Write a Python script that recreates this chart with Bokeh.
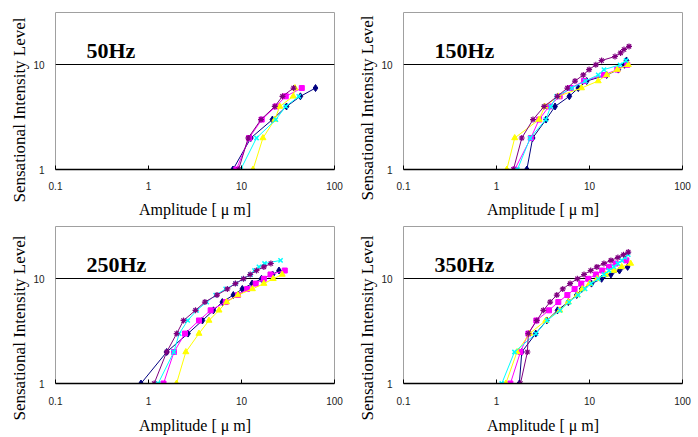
from bokeh.plotting import figure
from bokeh.layouts import gridplot
from bokeh.models import FixedTicker, CustomJSTickFormatter, Label, Title, Range1d
from bokeh.embed import file_html
from bokeh.resources import INLINE

# ---------------- data ----------------
panel_names = ["50Hz", "150Hz", "250Hz", "350Hz"]
x_ticks = [0.1, 1, 10, 100]
y_ticks = [1, 10]
grid_ticks = [10]
x_label = "Amplitude [ \u03bc m]"
y_label = "Sensational Intensity Level"

# 50 Hz
hz50_navy_x = [8.1, 12.6, 21.5, 30.5, 43.0, 62.5]
hz50_navy_y = [1, 2, 3, 4, 5, 6]
hz50_magenta_x = [8.8, 12.1, 16.5, 23.4, 29.9, 44.5]
hz50_magenta_y = [1, 2, 3, 4, 5, 6]
hz50_yellow_x = [13.3, 17.0, 22.8, 25.8, 36.0, 37.6]
hz50_yellow_y = [1, 2, 3, 4, 5, 6]
hz50_cyan_x = [9.8, 14.5, 23.4, 29.9, 41.3]
hz50_cyan_y = [1, 2, 3, 4, 5]
hz50_purple_x = [9.3, 11.8, 16.2, 22.8, 27.6, 36.3]
hz50_purple_y = [1, 2, 3, 4, 5, 6]

# 150 Hz
hz150_navy_x = [2.12, 2.45, 3.41, 4.26, 6.07, 7.58, 9.33, 15.3, 20.4, 23.8, 25.0]
hz150_navy_y = [1, 2, 3, 4, 5, 6, 7, 8, 9, 10, 11]
hz150_magenta_x = [1.57, 2.34, 2.87, 3.67, 4.78, 6.28, 8.73, 14.3, 19.9, 25.5]
hz150_magenta_y = [1, 2, 3, 4, 5, 6, 7, 8, 9, 10]
hz150_yellow_x = [1.29, 1.57, 2.87, 3.30, 4.60, 8.2, 12.4, 15.3, 19.9, 26.1]
hz150_yellow_y = [1, 2, 3, 4, 5, 6, 7, 8, 9, 10]
hz150_cyan_x = [1.68, 2.30, 3.39, 3.83, 4.43, 6.44, 9.0, 12.4, 14.3, 21.3, 24.7]
hz150_cyan_y = [1, 2, 3, 4, 5, 6, 7, 8, 9, 10, 11]
hz150_purple_x = [1.52, 1.87, 2.47, 3.25, 4.51, 5.78, 6.98, 8.57, 9.9, 11.7, 13.5, 18.8, 21.6, 23.5, 26.6]
hz150_purple_y = [1, 2, 3, 4, 5, 6, 7, 8, 9, 10, 11, 12, 13, 14, 15]

# 250 Hz
hz250_navy_x = [0.83, 1.57, 2.66, 3.80, 4.99, 6.22, 8.17, 10.2, 13.0, 16.4, 21.6, 25.3]
hz250_navy_y = [1, 2, 3, 4, 5, 6, 7, 8, 9, 10, 11, 12]
hz250_magenta_x = [1.45, 1.88, 2.47, 3.49, 4.66, 6.76, 9.15, 11.5, 14.2, 17.4, 20.5, 29.2]
hz250_magenta_y = [1, 2, 3, 4, 5, 6, 7, 8, 9, 10, 11, 12]
hz250_yellow_x = [2.0, 2.52, 3.49, 4.47, 5.73, 6.92, 9.15, 13.1, 17.4, 21.9, 27.4]
hz250_yellow_y = [1, 2, 3, 4, 5, 6, 7, 8, 9, 10, 11]
hz250_cyan_x = [1.27, 1.87, 2.14, 2.64, 3.30, 4.23, 5.27, 6.76, 8.65, 10.5, 12.5, 13.8, 15.4, 17.7, 26.3]
hz250_cyan_y = [1, 2, 3, 4, 5, 6, 7, 8, 9, 10, 11, 12, 13, 14, 15]
hz250_purple_x = [1.15, 1.57, 2.01, 2.38, 3.2, 4.04, 5.45, 7.04, 8.6, 10.5, 12.4, 14.5, 17.4, 20.7]
hz250_purple_y = [1, 2, 3, 4, 5, 6, 7, 8, 9, 10, 11, 12, 13, 14]

# 350 Hz
hz350_navy_x = [1.76, 1.87, 2.64, 3.47, 4.53, 5.92, 7.29, 8.24, 10.5, 13.5, 17.0, 21.0, 25.7]
hz350_navy_y = [1, 2, 3, 4, 5, 6, 7, 8, 9, 10, 11, 12, 13]
hz350_magenta_x = [1.41, 1.81, 2.20, 2.68, 3.67, 4.62, 5.78, 6.91, 8.15, 9.7, 11.7, 13.7, 16.2, 19.1, 24.9]
hz350_magenta_y = [1, 2, 3, 4, 5, 6, 7, 8, 9, 10, 11, 12, 13, 14, 15]
hz350_yellow_x = [1.26, 1.66, 2.27, 3.39, 4.79, 5.92, 7.39, 8.37, 10.0, 12.1, 14.9, 18.3, 22.2, 27.7]
hz350_yellow_y = [1, 2, 3, 4, 5, 6, 7, 8, 9, 10, 11, 12, 13, 14]
hz350_cyan_x = [1.14, 1.56, 2.66, 3.50, 4.82, 6.03, 7.53, 8.96, 10.4, 12.4, 14.3, 16.2, 18.3, 20.2, 22.3, 24.1, 26.1]
hz350_cyan_y = [1, 2, 3, 4, 5, 6, 7, 8, 9, 10, 11, 12, 13, 14, 15, 16, 17]
hz350_purple_x = [1.81, 2.15, 2.20, 2.71, 3.19, 3.77, 4.45, 5.16, 6.18, 7.40, 8.73, 10.3, 12.0, 14.3, 17.0, 20.2, 23.2, 26.1]
hz350_purple_y = [1, 2, 3, 4, 5, 6, 7, 8, 9, 10, 11, 12, 13, 14, 15, 16, 17, 18]

panels_data = [
    [(hz50_navy_x, hz50_navy_y), (hz50_magenta_x, hz50_magenta_y), (hz50_yellow_x, hz50_yellow_y),
     (hz50_cyan_x, hz50_cyan_y), (hz50_purple_x, hz50_purple_y)],
    [(hz150_navy_x, hz150_navy_y), (hz150_magenta_x, hz150_magenta_y), (hz150_yellow_x, hz150_yellow_y),
     (hz150_cyan_x, hz150_cyan_y), (hz150_purple_x, hz150_purple_y)],
    [(hz250_navy_x, hz250_navy_y), (hz250_magenta_x, hz250_magenta_y), (hz250_yellow_x, hz250_yellow_y),
     (hz250_cyan_x, hz250_cyan_y), (hz250_purple_x, hz250_purple_y)],
    [(hz350_navy_x, hz350_navy_y), (hz350_magenta_x, hz350_magenta_y), (hz350_yellow_x, hz350_yellow_y),
     (hz350_cyan_x, hz350_cyan_y), (hz350_purple_x, hz350_purple_y)],
]

# ---------------- styles ----------------
series_styles = [
    dict(color="#000080", marker="diamond", size=7, lw=1),
    dict(color="#FF00FF", marker="square", size=5, lw=1),
    dict(color="#FFFF00", marker="triangle", size=6, lw=1),
    dict(color="#00FFFF", marker="x", size=6, lw=1.5),
    dict(color="#800080", marker="asterisk", size=6, lw=1.2),
]

SERIF = "Liberation Serif"
SANS = "Liberation Sans"
X_MIN, X_MAX = 0.1, 100
Y_MIN, Y_MAX = 1, 31.6
NAME_X, NAME_Y = 0.215, 13.7


def make_panel(idx, left, right, top, bottom, tick_standoff, lab_standoff, ylab_offset):
    p = figure(x_axis_type="log", y_axis_type="log",
               x_range=Range1d(X_MIN, X_MAX), y_range=Range1d(Y_MIN, Y_MAX),
               frame_width=279, frame_height=157,
               min_border_left=left, min_border_right=right,
               min_border_top=top, min_border_bottom=bottom,
               output_backend="svg", toolbar_location=None)
    p.background_fill_color = "white"
    p.border_fill_color = "white"
    p.outline_line_color = "#a0a0a0"
    p.outline_line_width = 1

    xa = p.xaxis[0]
    xa.ticker = FixedTicker(ticks=x_ticks)
    xa.formatter = CustomJSTickFormatter(code="return String(tick);")
    xa.axis_line_color = "black"
    xa.axis_line_width = 1.5
    xa.major_tick_in = 4
    xa.major_tick_out = 0
    xa.major_tick_line_color = "black"
    xa.minor_tick_line_color = None
    xa.major_label_text_font = SANS
    xa.major_label_text_font_size = "10px"
    xa.major_label_text_color = "#222222"
    xa.major_label_standoff = tick_standoff
    xa.axis_label = x_label
    xa.axis_label_text_font = SERIF
    xa.axis_label_text_font_size = "16px"
    xa.axis_label_text_font_style = "normal"
    xa.axis_label_text_color = "black"
    xa.axis_label_standoff = lab_standoff

    ya = p.yaxis[0]
    ya.ticker = FixedTicker(ticks=y_ticks)
    ya.formatter = CustomJSTickFormatter(code="return String(tick);")
    ya.axis_line_color = None
    ya.major_tick_line_color = None
    ya.minor_tick_line_color = None
    ya.major_label_text_font = SANS
    ya.major_label_text_font_size = "10px"
    ya.major_label_text_color = "#222222"
    ya.major_label_standoff = 5

    p.xgrid.grid_line_color = None
    p.ygrid.ticker = FixedTicker(ticks=grid_ticks)
    p.ygrid.grid_line_color = "black"
    p.ygrid.grid_line_width = 1

    p.add_layout(Title(text=y_label, align="left", offset=ylab_offset,
                       text_font=SERIF, text_font_size="17px",
                       text_font_style="normal", text_color="black", standoff=4), "left")

    for (xs, ys), st in zip(panels_data[idx], series_styles):
        p.line(xs, ys, line_color=st["color"], line_width=1)
        p.scatter(xs, ys, marker=st["marker"], size=st["size"],
                  line_color=st["color"], fill_color=st["color"], line_width=st["lw"])

    p.add_layout(Label(x=NAME_X, y=NAME_Y, text=panel_names[idx], text_font=SERIF,
                       text_font_size="22px", text_font_style="bold",
                       text_color="black", text_baseline="alphabetic"))
    return p


p1 = make_panel(0, 55, 15, 12, 49, 12, 8, -33)
p2 = make_panel(1, 54, 16, 12, 49, 12, 8, -31)
p3 = make_panel(2, 55, 15, 6, 56, 13, 9, -37)
p4 = make_panel(3, 54, 16, 6, 56, 13, 9, -37)

grid = gridplot([[p1, p2], [p3, p4]], toolbar_location=None)

open("out.html", "w").write(file_html(grid, INLINE))
